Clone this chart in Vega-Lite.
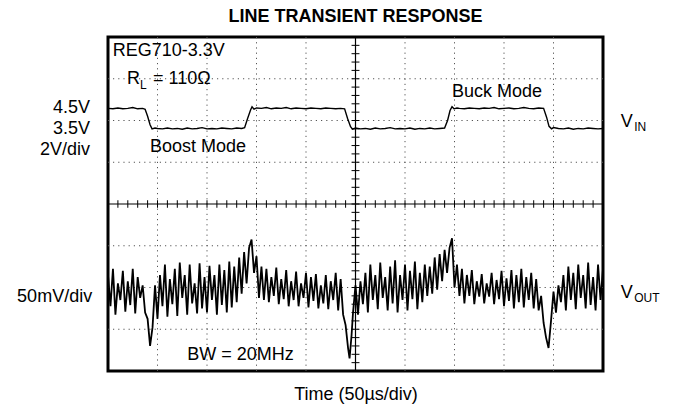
{
  "$schema": "https://vega.github.io/schema/vega-lite/v6.json",
  "width": 495,
  "height": 334,
  "autosize": "none",
  "padding": {"left": 108, "top": 37, "right": 73, "bottom": 38},
  "background": "white",
  "title": {"text": "LINE TRANSIENT RESPONSE", "fontSize": 18, "fontWeight": "bold", "font": "Liberation Sans", "offset": 10, "anchor": "middle", "color": "black"},
  "config": {
    "view": {"stroke": "black", "strokeWidth": 3},
    "font": "Liberation Sans",
    "axis": {"labels": false, "ticks": false, "domain": false, "grid": false, "titleFontSize": 18, "titleFontWeight": "normal", "titleColor": "black", "titleFont": "Liberation Sans"},
    "axisX": {"titlePadding": 14}
  },
  "datasets": {
    "gx": [{"g":1},{"g":2},{"g":3},{"g":4},{"g":6},{"g":7},{"g":8},{"g":9}],
    "gy": [{"g":1},{"g":2},{"g":3},{"g":5},{"g":6},{"g":7}],
    "vin": [
      {"x":0,"y":6.29},{"x":0.1,"y":6.28},{"x":0.2,"y":6.30},{"x":0.3,"y":6.28},{"x":0.4,"y":6.29},{"x":0.5,"y":6.31},{"x":0.6,"y":6.28},{"x":0.7,"y":6.29},{"x":0.75,"y":6.27},{"x":0.8,"y":6.10},{"x":0.85,"y":5.90},{"x":0.89,"y":5.80},{"x":0.95,"y":5.82},{"x":1.0,"y":5.81},{"x":1.1,"y":5.80},{"x":1.2,"y":5.82},{"x":1.3,"y":5.80},{"x":1.4,"y":5.81},{"x":1.5,"y":5.79},{"x":1.6,"y":5.82},{"x":1.7,"y":5.80},{"x":1.8,"y":5.81},{"x":1.9,"y":5.83},{"x":2.0,"y":5.80},{"x":2.1,"y":5.81},{"x":2.2,"y":5.80},{"x":2.3,"y":5.82},{"x":2.4,"y":5.81},{"x":2.5,"y":5.80},{"x":2.6,"y":5.82},{"x":2.7,"y":5.81},{"x":2.76,"y":5.83},{"x":2.82,"y":6.05},{"x":2.88,"y":6.25},{"x":2.91,"y":6.33},{"x":2.95,"y":6.27},{"x":3.0,"y":6.30},{"x":3.1,"y":6.29},{"x":3.2,"y":6.31},{"x":3.3,"y":6.28},{"x":3.4,"y":6.30},{"x":3.5,"y":6.29},{"x":3.6,"y":6.31},{"x":3.7,"y":6.28},{"x":3.8,"y":6.30},{"x":3.9,"y":6.29},{"x":4.0,"y":6.28},{"x":4.1,"y":6.30},{"x":4.2,"y":6.29},{"x":4.3,"y":6.28},{"x":4.4,"y":6.30},{"x":4.5,"y":6.29},{"x":4.6,"y":6.28},{"x":4.7,"y":6.29},{"x":4.78,"y":6.28},{"x":4.84,"y":6.05},{"x":4.9,"y":5.85},{"x":4.94,"y":5.79},{"x":5.0,"y":5.82},{"x":5.1,"y":5.80},{"x":5.2,"y":5.81},{"x":5.3,"y":5.79},{"x":5.4,"y":5.82},{"x":5.5,"y":5.80},{"x":5.6,"y":5.81},{"x":5.7,"y":5.83},{"x":5.8,"y":5.80},{"x":5.9,"y":5.81},{"x":6.0,"y":5.80},{"x":6.1,"y":5.82},{"x":6.2,"y":5.79},{"x":6.3,"y":5.81},{"x":6.4,"y":5.80},{"x":6.5,"y":5.82},{"x":6.6,"y":5.80},{"x":6.7,"y":5.81},{"x":6.8,"y":5.82},{"x":6.86,"y":6.0},{"x":6.91,"y":6.24},{"x":6.95,"y":6.33},{"x":6.99,"y":6.28},{"x":7.05,"y":6.30},{"x":7.1,"y":6.29},{"x":7.2,"y":6.28},{"x":7.3,"y":6.30},{"x":7.4,"y":6.29},{"x":7.5,"y":6.28},{"x":7.6,"y":6.30},{"x":7.7,"y":6.29},{"x":7.8,"y":6.31},{"x":7.9,"y":6.28},{"x":8.0,"y":6.29},{"x":8.1,"y":6.30},{"x":8.2,"y":6.28},{"x":8.3,"y":6.29},{"x":8.4,"y":6.31},{"x":8.5,"y":6.29},{"x":8.6,"y":6.28},{"x":8.7,"y":6.30},{"x":8.8,"y":6.29},{"x":8.86,"y":6.08},{"x":8.91,"y":5.86},{"x":8.96,"y":5.80},{"x":9.0,"y":5.83},{"x":9.1,"y":5.81},{"x":9.2,"y":5.80},{"x":9.3,"y":5.82},{"x":9.4,"y":5.79},{"x":9.5,"y":5.81},{"x":9.6,"y":5.80},{"x":9.7,"y":5.82},{"x":9.8,"y":5.81},{"x":9.9,"y":5.80},{"x":10.0,"y":5.81}
    ],
    "vout": [
      {"x":0.00,"y":2.30},{"x":0.05,"y":1.55},{"x":0.10,"y":2.45},{"x":0.15,"y":1.35},{"x":0.20,"y":2.10},{"x":0.25,"y":1.70},{"x":0.30,"y":2.40},{"x":0.35,"y":1.42},{"x":0.40,"y":2.15},{"x":0.45,"y":1.58},{"x":0.50,"y":2.45},{"x":0.55,"y":1.38},{"x":0.60,"y":2.25},{"x":0.65,"y":1.75},{"x":0.70,"y":2.05},{"x":0.75,"y":1.40},
      {"x":0.80,"y":1.25},{"x":0.85,"y":0.60},{"x":0.90,"y":1.05},
      {"x":0.95,"y":2.05},{"x":1.00,"y":1.25},{"x":1.05,"y":2.30},{"x":1.10,"y":1.55},{"x":1.15,"y":2.55},{"x":1.20,"y":1.30},{"x":1.25,"y":2.20},{"x":1.30,"y":1.60},{"x":1.35,"y":2.45},{"x":1.40,"y":1.32},{"x":1.45,"y":2.60},{"x":1.50,"y":1.75},{"x":1.55,"y":2.30},{"x":1.60,"y":1.35},{"x":1.65,"y":2.55},{"x":1.70,"y":1.62},{"x":1.75,"y":2.10},{"x":1.80,"y":1.38},{"x":1.85,"y":2.58},{"x":1.90,"y":1.50},{"x":1.95,"y":2.25},{"x":2.00,"y":1.40},{"x":2.05,"y":2.52},{"x":2.10,"y":1.70},{"x":2.15,"y":2.30},{"x":2.20,"y":1.35},{"x":2.25,"y":2.55},{"x":2.30,"y":1.58},{"x":2.35,"y":2.42},{"x":2.40,"y":1.40},{"x":2.45,"y":2.62},{"x":2.50,"y":1.52},{"x":2.55,"y":2.50},{"x":2.60,"y":1.65},{"x":2.65,"y":2.72},{"x":2.70,"y":1.85},{"x":2.75,"y":2.85},{"x":2.80,"y":2.10},{"x":2.85,"y":2.95},{"x":2.90,"y":3.15},{"x":2.95,"y":2.35},{"x":3.00,"y":2.75},{"x":3.05,"y":1.75},{"x":3.10,"y":2.50},{"x":3.15,"y":1.70},
      {"x":3.20,"y":2.45},{"x":3.25,"y":1.65},{"x":3.30,"y":2.25},{"x":3.35,"y":1.80},{"x":3.40,"y":2.48},{"x":3.45,"y":1.60},{"x":3.50,"y":2.20},{"x":3.55,"y":1.72},{"x":3.60,"y":2.42},{"x":3.65,"y":1.55},{"x":3.70,"y":2.15},{"x":3.75,"y":1.70},{"x":3.80,"y":2.38},{"x":3.85,"y":1.55},{"x":3.90,"y":2.10},{"x":3.95,"y":1.75},{"x":4.00,"y":2.35},{"x":4.05,"y":1.52},{"x":4.10,"y":2.25},{"x":4.15,"y":1.68},{"x":4.20,"y":2.32},{"x":4.25,"y":1.50},{"x":4.30,"y":2.05},{"x":4.35,"y":1.62},{"x":4.40,"y":2.30},{"x":4.45,"y":1.48},{"x":4.50,"y":2.15},{"x":4.55,"y":1.70},{"x":4.60,"y":2.35},{"x":4.65,"y":1.45},{"x":4.70,"y":2.20},{"x":4.75,"y":1.35},
      {"x":4.80,"y":1.10},{"x":4.85,"y":0.55},{"x":4.88,"y":0.30},{"x":4.92,"y":0.85},{"x":4.95,"y":1.40},
      {"x":5.00,"y":2.05},{"x":5.05,"y":1.35},{"x":5.10,"y":2.15},{"x":5.15,"y":1.60},{"x":5.20,"y":2.35},{"x":5.25,"y":1.40},{"x":5.30,"y":2.55},{"x":5.35,"y":1.70},{"x":5.40,"y":2.30},{"x":5.45,"y":1.48},{"x":5.50,"y":2.60},{"x":5.55,"y":1.75},{"x":5.60,"y":2.25},{"x":5.65,"y":1.45},{"x":5.70,"y":2.50},{"x":5.75,"y":1.62},{"x":5.80,"y":2.65},{"x":5.85,"y":1.40},{"x":5.90,"y":2.30},{"x":5.95,"y":1.70},{"x":6.00,"y":2.55},{"x":6.05,"y":1.45},{"x":6.10,"y":2.40},{"x":6.15,"y":1.72},{"x":6.20,"y":2.62},{"x":6.25,"y":1.48},{"x":6.30,"y":2.35},{"x":6.35,"y":1.65},{"x":6.40,"y":2.55},{"x":6.45,"y":1.80},{"x":6.50,"y":2.50},{"x":6.55,"y":1.85},{"x":6.60,"y":2.72},{"x":6.65,"y":1.95},{"x":6.70,"y":2.80},{"x":6.75,"y":2.15},{"x":6.80,"y":2.90},{"x":6.85,"y":2.35},{"x":6.90,"y":2.95},{"x":6.95,"y":3.18},
      {"x":7.00,"y":2.00},{"x":7.05,"y":2.55},{"x":7.10,"y":1.80},{"x":7.15,"y":2.45},{"x":7.20,"y":1.62},{"x":7.25,"y":2.30},{"x":7.30,"y":1.80},{"x":7.35,"y":2.42},{"x":7.40,"y":1.60},{"x":7.45,"y":2.15},{"x":7.50,"y":1.78},{"x":7.55,"y":2.32},{"x":7.60,"y":1.62},{"x":7.65,"y":2.10},{"x":7.70,"y":1.78},{"x":7.75,"y":2.35},{"x":7.80,"y":1.60},{"x":7.85,"y":2.18},{"x":7.90,"y":1.72},{"x":7.95,"y":2.40},{"x":8.00,"y":1.55},{"x":8.05,"y":2.22},{"x":8.10,"y":1.68},{"x":8.15,"y":2.42},{"x":8.20,"y":1.50},{"x":8.25,"y":2.30},{"x":8.30,"y":1.65},{"x":8.35,"y":2.45},{"x":8.40,"y":1.52},{"x":8.45,"y":2.25},{"x":8.50,"y":1.70},{"x":8.55,"y":2.35},{"x":8.60,"y":1.50},{"x":8.65,"y":2.20},{"x":8.70,"y":1.45},
      {"x":8.75,"y":1.80},{"x":8.80,"y":1.15},{"x":8.85,"y":0.80},{"x":8.90,"y":0.55},{"x":8.95,"y":1.20},
      {"x":9.00,"y":1.90},{"x":9.05,"y":1.40},{"x":9.10,"y":2.05},{"x":9.15,"y":1.65},{"x":9.20,"y":2.30},{"x":9.25,"y":1.45},{"x":9.30,"y":2.50},{"x":9.35,"y":1.70},{"x":9.40,"y":2.35},{"x":9.45,"y":1.48},{"x":9.50,"y":2.55},{"x":9.55,"y":1.75},{"x":9.60,"y":2.30},{"x":9.65,"y":1.50},{"x":9.70,"y":2.60},{"x":9.75,"y":1.58},{"x":9.80,"y":2.25},{"x":9.85,"y":1.45},{"x":9.90,"y":2.55},{"x":9.95,"y":1.70},{"x":10.00,"y":2.45}
    ],
    "ticks": [
      {"t":0.2},{"t":0.4},{"t":0.6},{"t":0.8},{"t":1},{"t":1.2},{"t":1.4},{"t":1.6},{"t":1.8},{"t":2},{"t":2.2},{"t":2.4},{"t":2.6},{"t":2.8},{"t":3},{"t":3.2},{"t":3.4},{"t":3.6},{"t":3.8},{"t":4},{"t":4.2},{"t":4.4},{"t":4.6},{"t":4.8},{"t":5},{"t":5.2},{"t":5.4},{"t":5.6},{"t":5.8},{"t":6},{"t":6.2},{"t":6.4},{"t":6.6},{"t":6.8},{"t":7},{"t":7.2},{"t":7.4},{"t":7.6},{"t":7.8},{"t":8},{"t":8.2},{"t":8.4},{"t":8.6},{"t":8.8},{"t":9},{"t":9.2},{"t":9.4},{"t":9.6},{"t":9.8}
    ],
    "textL": [
      {"x":0.095,"y":7.66,"text":"REG710-3.3V"},
      {"x":0.384,"y":6.99,"text":"R"},
      {"x":0.91,"y":6.99,"text":"= 110Ω"},
      {"x":0.85,"y":5.36,"text":"Boost Mode"},
      {"x":6.95,"y":6.68,"text":"Buck Mode"},
      {"x":1.60,"y":0.38,"text":"BW = 20MHz"},
      {"x":10.36,"y":5.97,"text":"V"},
      {"x":10.36,"y":1.87,"text":"V"}
    ],
    "textSub": [
      {"x":0.646,"y":6.86,"text":"L"},
      {"x":10.63,"y":5.84,"text":"IN"},
      {"x":10.63,"y":1.74,"text":"OUT"}
    ],
    "textR": [
      {"x":-0.364,"y":6.30,"text":"4.5V"},
      {"x":-0.364,"y":5.79,"text":"3.5V"},
      {"x":-0.364,"y":5.29,"text":"2V/div"},
      {"x":-0.32,"y":1.77,"text":"50mV/div"}
    ]
  },
  "layer": [
    {
      "data": {"name": "gx"},
      "mark": {"type": "rule", "color": "#555", "strokeWidth": 1, "strokeDash": [1.2, 4]},
      "encoding": {
        "x": {"field": "g", "type": "quantitative", "scale": {"domain": [0, 10], "nice": false, "zero": false}, "title": "Time (50µs/div)"}
      }
    },
    {
      "data": {"name": "gy"},
      "mark": {"type": "rule", "color": "#555", "strokeWidth": 1, "strokeDash": [1.2, 4]},
      "encoding": {
        "y": {"field": "g", "type": "quantitative", "scale": {"domain": [0, 8], "nice": false, "zero": false}, "title": null}
      }
    },
    {
      "data": {"values": [{}]},
      "mark": {"type": "rule", "color": "black", "strokeWidth": 1.2},
      "encoding": {"x": {"datum": 5, "type": "quantitative", "title": "Time (50µs/div)"}}
    },
    {
      "data": {"values": [{}]},
      "mark": {"type": "rule", "color": "black", "strokeWidth": 1.2},
      "encoding": {"y": {"datum": 4, "type": "quantitative", "title": null}}
    },
    {
      "data": {"name": "ticks"},
      "mark": {"type": "rule", "color": "black", "strokeWidth": 1},
      "encoding": {
        "x": {"field": "t", "type": "quantitative", "title": "Time (50µs/div)"},
        "y": {"datum": 3.91, "type": "quantitative", "title": null},
        "y2": {"datum": 4.09}
      }
    },
    {
      "data": {"name": "ticks"},
      "transform": [{"filter": "datum.t < 8"}],
      "mark": {"type": "rule", "color": "black", "strokeWidth": 1},
      "encoding": {
        "y": {"field": "t", "type": "quantitative", "title": null},
        "x": {"datum": 4.92, "type": "quantitative", "title": "Time (50µs/div)"},
        "x2": {"datum": 5.08}
      }
    },
    {
      "data": {"name": "vin"},
      "mark": {"type": "line", "color": "black", "strokeWidth": 1.4},
      "encoding": {
        "x": {"field": "x", "type": "quantitative", "title": "Time (50µs/div)"},
        "y": {"field": "y", "type": "quantitative", "title": null}
      }
    },
    {
      "data": {"name": "vout"},
      "mark": {"type": "line", "color": "black", "strokeWidth": 1.8},
      "encoding": {
        "x": {"field": "x", "type": "quantitative", "title": "Time (50µs/div)"},
        "y": {"field": "y", "type": "quantitative", "title": null}
      }
    },
    {
      "data": {"name": "textL"},
      "mark": {"type": "text", "align": "left", "baseline": "middle", "fontSize": 18, "font": "Liberation Sans", "color": "black"},
      "encoding": {
        "x": {"field": "x", "type": "quantitative", "title": "Time (50µs/div)"},
        "y": {"field": "y", "type": "quantitative", "title": null},
        "text": {"field": "text"}
      }
    },
    {
      "data": {"name": "textSub"},
      "mark": {"type": "text", "align": "left", "baseline": "middle", "fontSize": 12, "font": "Liberation Sans", "color": "black"},
      "encoding": {
        "x": {"field": "x", "type": "quantitative", "title": "Time (50µs/div)"},
        "y": {"field": "y", "type": "quantitative", "title": null},
        "text": {"field": "text"}
      }
    },
    {
      "data": {"name": "textR"},
      "mark": {"type": "text", "align": "right", "baseline": "middle", "fontSize": 18, "font": "Liberation Sans", "color": "black"},
      "encoding": {
        "x": {"field": "x", "type": "quantitative", "title": "Time (50µs/div)"},
        "y": {"field": "y", "type": "quantitative", "title": null},
        "text": {"field": "text"}
      }
    }
  ]
}
